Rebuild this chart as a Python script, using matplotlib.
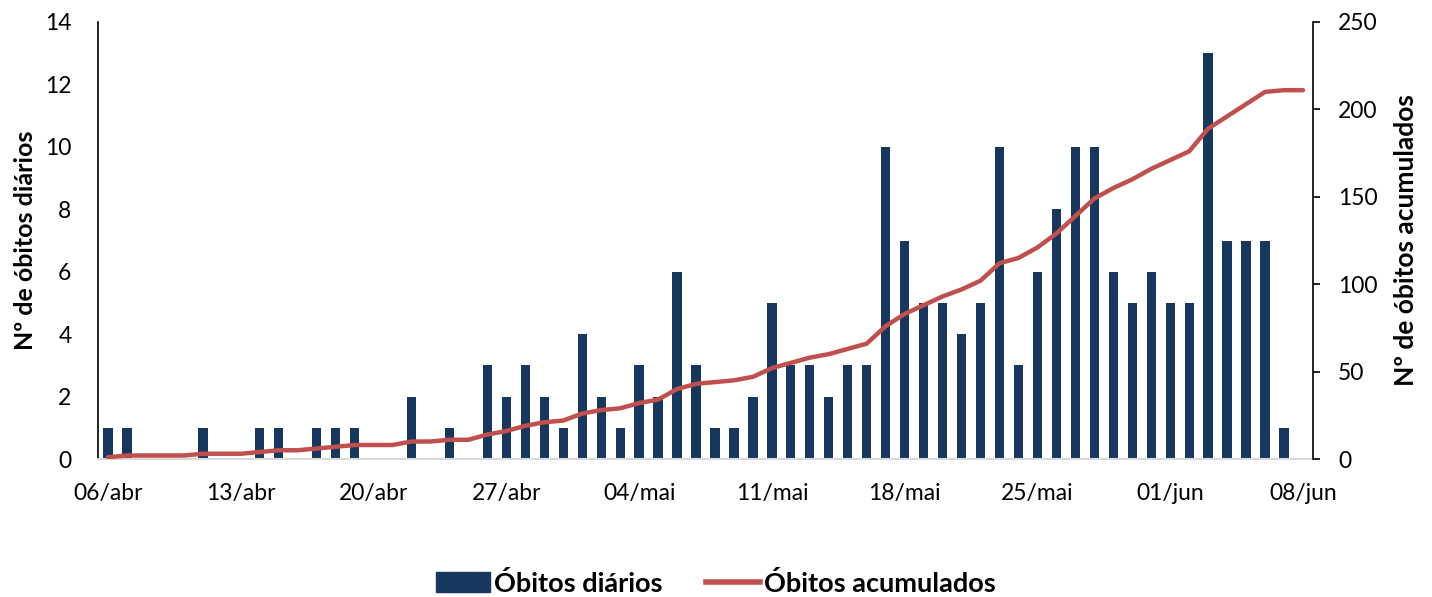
import matplotlib
matplotlib.use("Agg")
import matplotlib.pyplot as plt
import numpy as np
import pandas as pd
from matplotlib.patches import Patch
from matplotlib.lines import Line2D

plt.rcParams['font.family'] = ['Lato', 'DejaVu Sans']

# Dates 06/abr .. 08/jun (2020)
dates = pd.date_range("2020-04-06", "2020-06-08", freq="D")

# Daily deaths (06/abr .. 08/jun)
obitos_diarios = [
    1, 1, 0, 0, 0, 1, 0, 0, 1, 1, 0, 1, 1, 1, 0, 0, 2, 0, 1, 0, 3, 2, 3, 2, 1,   # abr 06-30
    4, 2, 1, 3, 2, 6, 3, 1, 1, 2, 5, 3, 3, 2, 3, 3, 10, 7, 5, 5,                  # mai 01-20
    4, 5, 10, 3, 6, 8, 10, 10, 6, 5, 6,                                          # mai 21-31
    5, 5, 13, 7, 7, 7, 1, 0,                                                     # jun 01-08
]

# Cumulative deaths (06/abr .. 08/jun)
obitos_acumulados = [
    1, 2, 2, 2, 2, 3, 3, 3, 4, 5, 5, 6, 7, 8, 8, 8, 10, 10, 11, 11, 14, 16, 19, 21, 22,
    26, 28, 29, 32, 34, 40, 43, 44, 45, 47, 52, 55, 58, 60, 63, 66, 76, 83, 88, 93,
    97, 102, 112, 115, 121, 129, 139, 149, 155, 160, 166,
    171, 176, 189, 196, 203, 210, 211, 211,
]

tick_dates = pd.date_range("2020-04-06", "2020-06-08", freq="7D")
tick_labels = ["06/abr", "13/abr", "20/abr", "27/abr", "04/mai", "11/mai",
               "18/mai", "25/mai", "01/jun", "08/jun"]

bar_color = "#17375E"
line_color = "#C0504D"

W, H = 1432, 597
fig = plt.figure(figsize=(W / 100, H / 100), dpi=100)
ax = fig.add_axes([98 / W, 1 - 459 / H, (1313 - 98) / W, (459 - 22) / H])
ax2 = ax.twinx()

ax.bar(dates, obitos_diarios, width=0.49, color=bar_color, align="center", zorder=2)
ax2.plot(dates, obitos_acumulados, color=line_color, lw=3.2, solid_capstyle="round",
         solid_joinstyle="round", zorder=3)

one_day = pd.Timedelta(days=1)
ax.set_xlim(dates[0] - 0.53 * one_day, dates[-1] + 0.53 * one_day)
ax.set_ylim(0, 14)
ax.set_yticks(range(0, 15, 2))
ax2.set_ylim(0, 250)
ax2.set_yticks(range(0, 251, 50))

ax.set_xticks(tick_dates)
ax.set_xticklabels(tick_labels)

fs = 16.5
ax.tick_params(axis="x", length=0, pad=17, labelsize=fs)
ax.tick_params(axis="y", length=0, pad=19, labelsize=fs)
ax2.tick_params(axis="y", length=5, width=1.2, direction="out", pad=13, labelsize=fs)

for s in ["top", "right"]:
    ax.spines[s].set_visible(False)
for s in ["top", "left", "bottom"]:
    ax2.spines[s].set_visible(False)
ax.spines["left"].set_color("black")
ax.spines["left"].set_linewidth(1.2)
ax.spines["bottom"].set_color("#D9D9D9")
ax.spines["bottom"].set_linewidth(1.5)
ax2.spines["right"].set_color("black")
ax2.spines["right"].set_linewidth(1.2)

ax.set_ylabel("Nº de óbitos diários", fontsize=18, fontweight="bold", labelpad=6)
ax2.set_ylabel("Nº de óbitos acumulados", fontsize=19, fontweight="bold", labelpad=12)

handles = [Patch(facecolor=bar_color, edgecolor=bar_color),
           Line2D([0], [0], color=line_color, lw=4)]
fig.legend(handles, ["Óbitos diários", "Óbitos acumulados"], loc="center",
           bbox_to_anchor=(0.5, 1 - 583 / H), ncol=2, frameon=False,
           prop={"size": 19.5, "weight": "bold"}, handlelength=2.0, handleheight=0.75,
           handletextpad=0.15, columnspacing=1.6)

fig.savefig("out.png", dpi=100)
